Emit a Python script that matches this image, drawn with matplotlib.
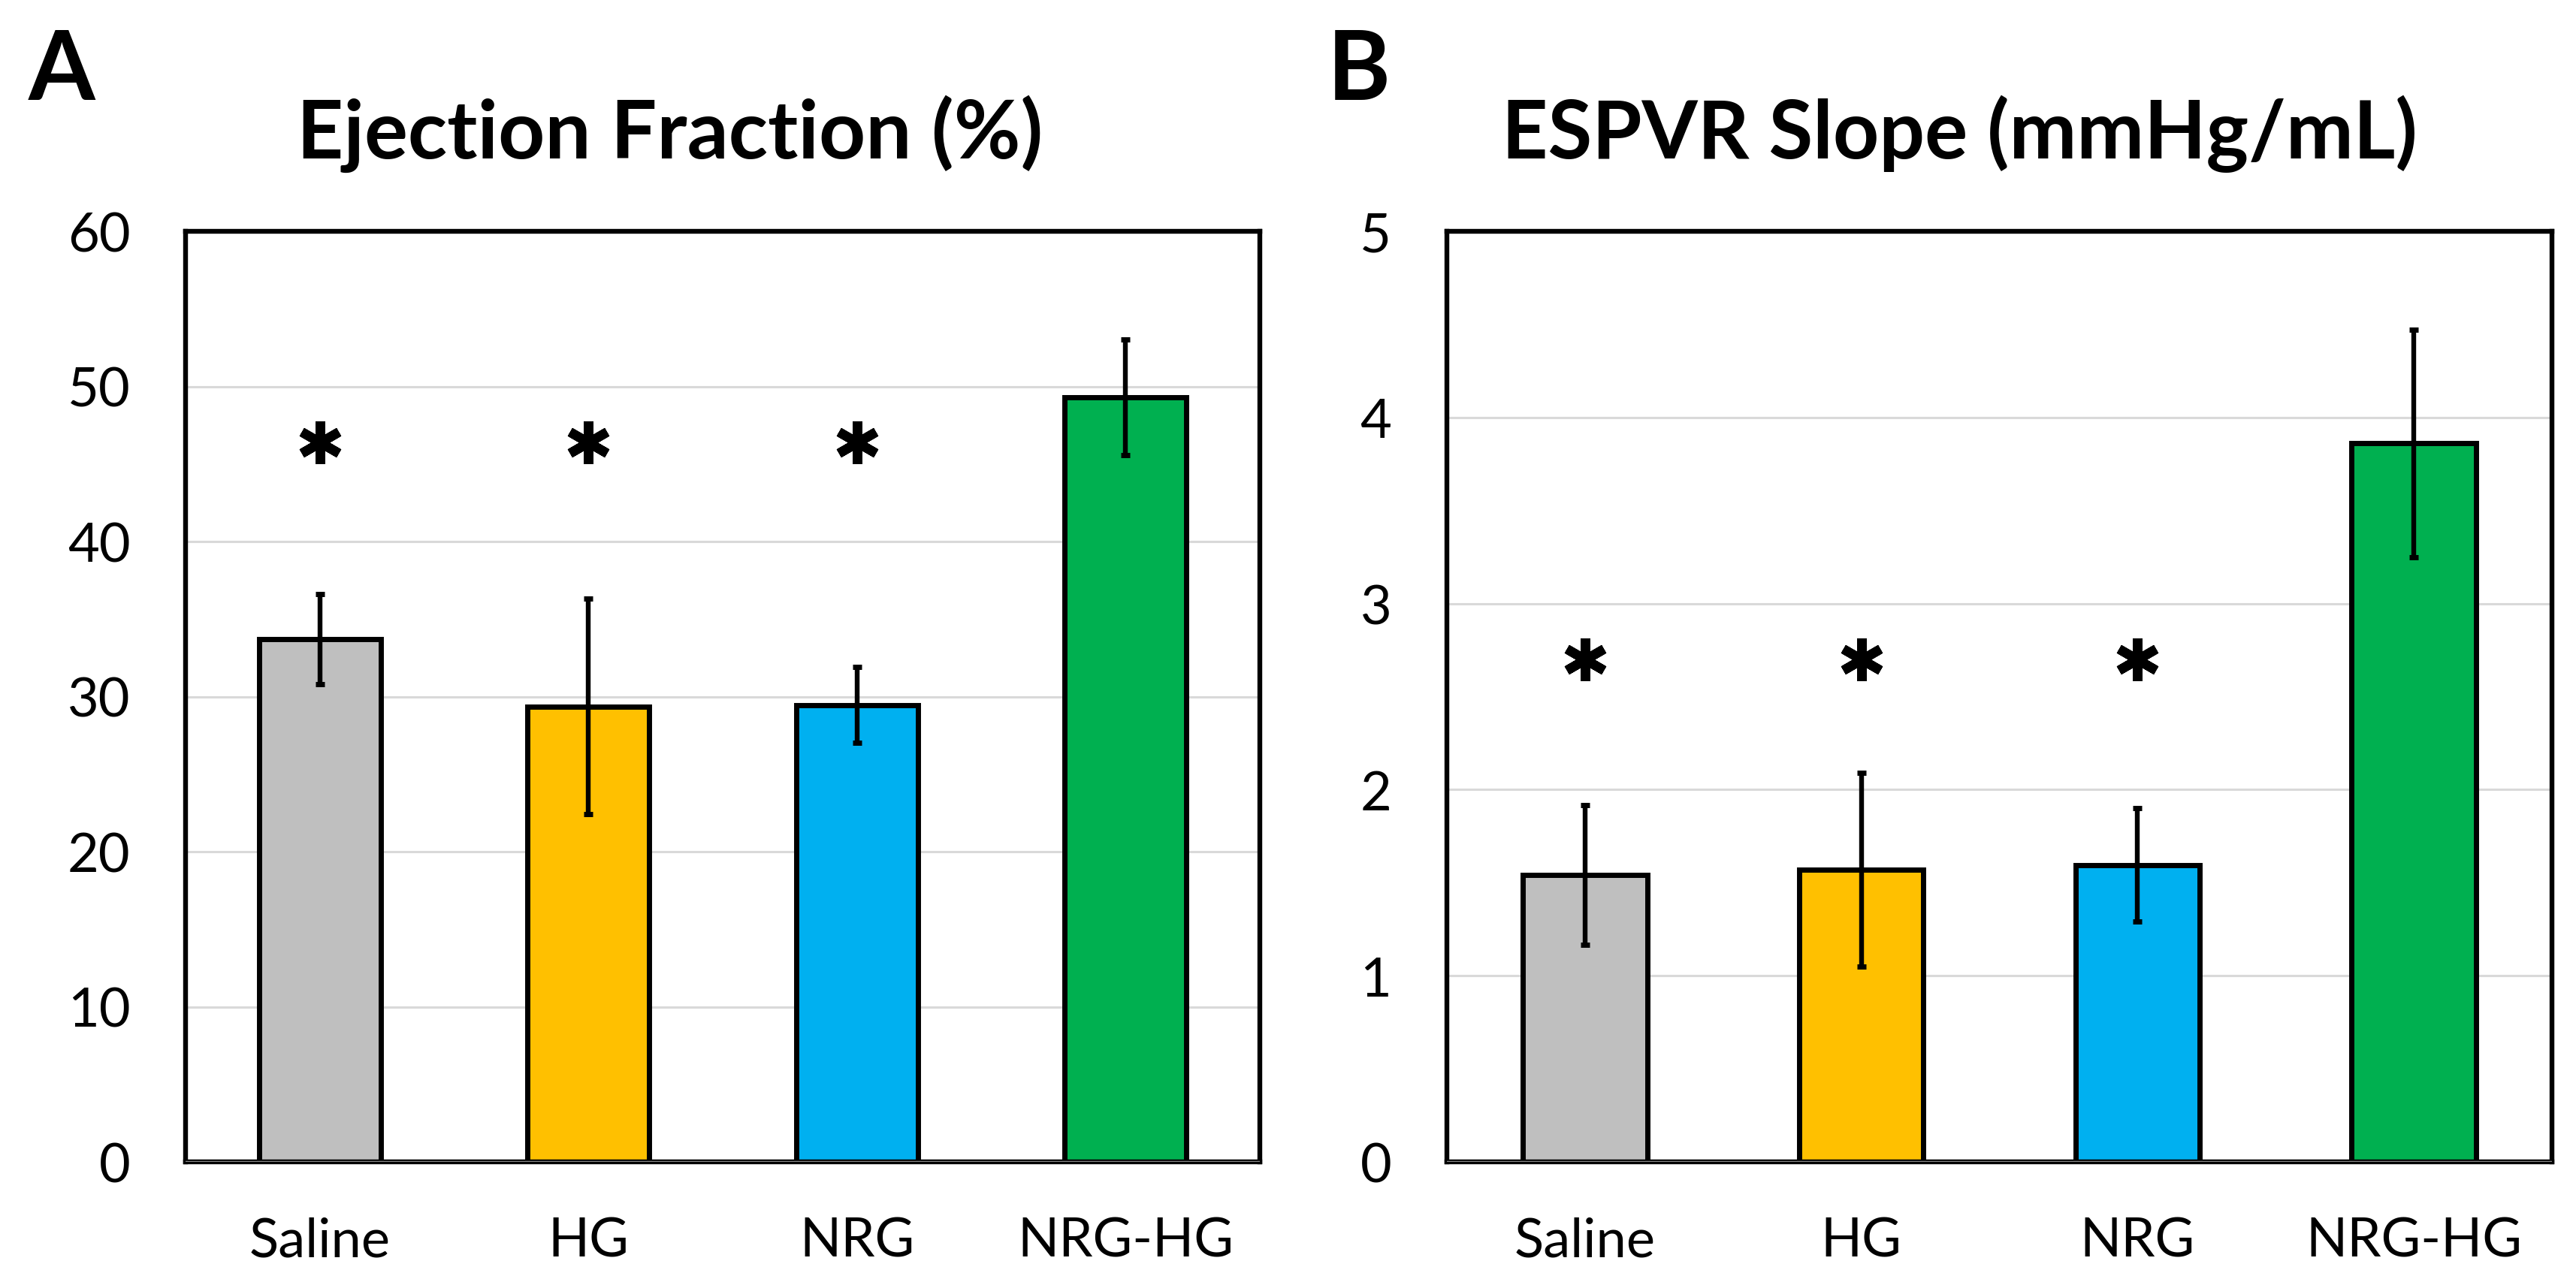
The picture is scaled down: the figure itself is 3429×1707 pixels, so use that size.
import numpy as np
import matplotlib.pyplot as plt
from matplotlib.markers import MarkerStyle

# Datos
grupos = ['Saline', 'HG', 'NRG', 'NRG-HG']
colores = ['#BFBFBF', '#FFC000', '#00B0F0', '#00B050']

ef_media = [33.7, 29.35, 29.45, 49.3]
ef_error = [2.9, 6.95, 2.45, 3.75]
ef_ticks = [0, 10, 20, 30, 40, 50, 60]

espvr_media = [1.54, 1.57, 1.595, 3.86]
espvr_error = [0.375, 0.52, 0.305, 0.61]
espvr_ticks = [0, 1, 2, 3, 4, 5]

# grupos con asterisco y altura del asterisco
ef_sig = [46.4, 46.4, 46.4, None]
espvr_sig = [2.70, 2.70, 2.70, None]

plt.rcParams['font.family'] = ['Lato', 'DejaVu Sans']

fig = plt.figure(figsize=(34.3, 17.08), dpi=100)
axA = fig.add_axes([247 / 3430, 160 / 1708, 1430 / 3430, 1239 / 1708])
axB = fig.add_axes([1926 / 3430, 160 / 1708, 1471 / 3430, 1239 / 1708])

asterisco = MarkerStyle((6, 2, 0), capstyle='round')


def panel(ax, media, error, ticks, sig, ancho):
    x = np.arange(len(grupos))
    ax.bar(x, media, width=ancho, color=colores, edgecolor='black',
           linewidth=5, zorder=2)
    ax.errorbar(x, media, yerr=error, fmt='none', ecolor='black',
                elinewidth=4.6, capsize=4, capthick=5, zorder=3)
    for xi, s in zip(x, sig):
        if s is not None:
            ax.plot(xi, s, marker=asterisco, markersize=41, color='black',
                    markeredgewidth=9, linestyle='none', zorder=4)
    ax.set_xlim(-0.5, len(grupos) - 0.5)
    ax.set_ylim(ticks[0], ticks[-1])
    ax.set_yticks(ticks)
    ax.set_xticks(x)
    ax.set_xticklabels(grupos)
    ax.tick_params(axis='both', length=0, labelsize=52)
    ax.tick_params(axis='y', pad=53)
    ax.tick_params(axis='x', pad=52)
    ax.yaxis.grid(True, color='#D9D9D9', linewidth=2.2)
    ax.set_axisbelow(True)
    for sp in ax.spines.values():
        sp.set_linewidth(4.6)
        sp.set_color('black')
    ax.axhline(0, color='#8C8C8C', linewidth=2.4, zorder=5)


panel(axA, ef_media, ef_error, ef_ticks, ef_sig, 0.453)
panel(axB, espvr_media, espvr_error, espvr_ticks, espvr_sig, 0.45)

# Títulos y letras de panel
fig.text(892 / 3430, 1 - 178 / 1708, 'Ejection Fraction (%)', ha='center',
         va='center', fontsize=78, fontweight='bold')
fig.text(2608 / 3430, 1 - 178 / 1708, 'ESPVR Slope (mmHg/mL)', ha='center',
         va='center', fontsize=77, fontweight='bold')
fig.text(38 / 3430, 1 - 133 / 1708, 'A', ha='left', va='baseline',
         fontsize=92, fontweight='bold')
fig.text(1767 / 3430, 1 - 133 / 1708, 'B', ha='left', va='baseline',
         fontsize=92, fontweight='bold')

fig.savefig('out.png', dpi=100)
